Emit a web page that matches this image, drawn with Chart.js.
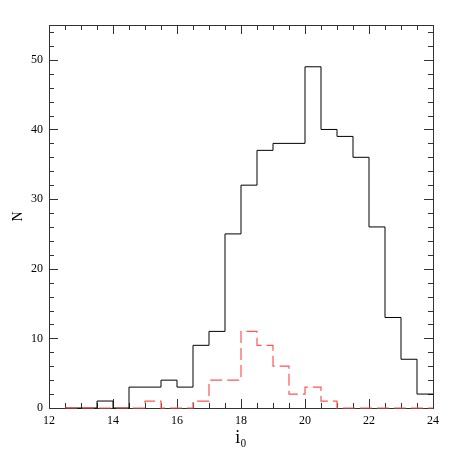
<!DOCTYPE html>
<html>
<head>
<meta charset="utf-8">
<script src="https://cdn.jsdelivr.net/npm/chart.js@4"></script>
<style>
  html, body { margin: 0; padding: 0; background: #fff; }
  #wrap { width: 458px; height: 458px; }
</style>
</head>
<body>
<div id="wrap"><canvas id="histChart" width="458" height="458"></canvas></div>
<script>
// left edges of the 0.5-wide bins, last bin ends at 24
const binEdges = [12.5, 13, 13.5, 14, 14.5, 15, 15.5, 16, 16.5, 17, 17.5, 18,
                  18.5, 19, 19.5, 20, 20.5, 21, 21.5, 22, 22.5, 23, 23.5];
const binEnd = 24;
const allCounts = [0, 0, 1, 0, 3, 3, 4, 3, 9, 11, 25, 32,
                   37, 38, 38, 49, 40, 39, 36, 26, 13, 7, 2];
const subCounts = [0, 0, 0, 0, 0, 1, 0, 0, 1, 4, 4, 11,
                   9, 6, 2, 3, 1, 0, 0, 0, 0, 0, 0];
const xTicks = [12, 14, 16, 18, 20, 22, 24];
const yTicks = [0, 10, 20, 30, 40, 50];

function toSteps(counts) {
    const pts = binEdges.map((e, i) => ({ x: e, y: counts[i] }));
    pts.push({ x: binEnd, y: counts[counts.length - 1] });
    return pts;
}

// frame with inward ticks on all four sides
const framePlugin = {
    id: 'frame',
    beforeDatasetsDraw(chart) {
        const ctx = chart.ctx;
        const a = chart.chartArea;
        const xs = chart.scales.x, ys = chart.scales.y;
        ctx.save();
        ctx.strokeStyle = '#333';
        ctx.lineWidth = 1;
        ctx.strokeRect(a.left + 0.5, a.top + 0.5, a.right - a.left, a.bottom - a.top);
        ctx.beginPath();
        for (let v = 12; v <= 24.001; v += 0.5) {
            const px = Math.round(xs.getPixelForValue(v)) + 0.5;
            const len = (Math.abs(v % 2) < 0.001) ? 9 : 5;
            ctx.moveTo(px, a.bottom); ctx.lineTo(px, a.bottom - len);
            ctx.moveTo(px, a.top); ctx.lineTo(px, a.top + len);
        }
        for (let v = 0; v <= 55; v += 2) {
            const py = Math.round(ys.getPixelForValue(v)) + 0.5;
            const len = (v % 10 === 0) ? 9 : 5;
            ctx.moveTo(a.left, py); ctx.lineTo(a.left + len, py);
            ctx.moveTo(a.right, py); ctx.lineTo(a.right - len, py);
        }
        for (let v = 10; v <= 50; v += 10) {
            const py = Math.round(ys.getPixelForValue(v)) + 0.5;
            ctx.moveTo(a.left, py); ctx.lineTo(a.left + 9, py);
            ctx.moveTo(a.right, py); ctx.lineTo(a.right - 9, py);
        }
        ctx.stroke();
        ctx.restore();
    }
};

const tickFont = { family: 'Liberation Serif', size: 12 };

new Chart(document.getElementById('histChart').getContext('2d'), {
    type: 'line',
    data: {
        datasets: [
            {
                label: 'subset',
                data: toSteps(subCounts),
                stepped: 'before',
                borderColor: 'rgb(255, 85, 85)',
                borderWidth: 1.2,
                borderDash: [12, 5],
                pointRadius: 0,
                fill: false,
                clip: false,
                order: 0
            },
            {
                label: 'all',
                data: toSteps(allCounts),
                stepped: 'before',
                borderColor: '#000',
                borderWidth: 1,
                pointRadius: 0,
                fill: false,
                clip: false,
                order: 1
            }
        ]
    },
    options: {
        responsive: false,
        animation: false,
        layout: { padding: { top: 25, right: 25, left: 0, bottom: 0 } },
        plugins: { legend: { display: false }, tooltip: { enabled: false } },
        scales: {
            x: {
                type: 'linear',
                min: 12, max: 24,
                afterBuildTicks(scale) { scale.ticks = xTicks.map(v => ({ value: v })); },
                afterFit(scale) { scale.height = 50; },
                grid: { display: false, drawTicks: false },
                border: { display: false },
                ticks: { color: '#000', font: tickFont, padding: 6, maxRotation: 0 },
                title: {
                    display: true, text: 'i₀', color: '#000',
                    font: { family: 'Liberation Serif', size: 18 },
                    padding: { top: 0, bottom: 9 }
                }
            },
            y: {
                min: 0, max: 55,
                afterBuildTicks(scale) { scale.ticks = yTicks.map(v => ({ value: v })); },
                afterFit(scale) { scale.width = 49; },
                grid: { display: false, drawTicks: false },
                border: { display: false },
                ticks: { color: '#000', font: tickFont, padding: 6 },
                title: {
                    display: true, text: 'N', color: '#000',
                    font: { family: 'Liberation Serif', size: 14 },
                    padding: { top: 10, bottom: 0 }
                }
            }
        }
    },
    plugins: [framePlugin]
});
</script>
</body>
</html>
